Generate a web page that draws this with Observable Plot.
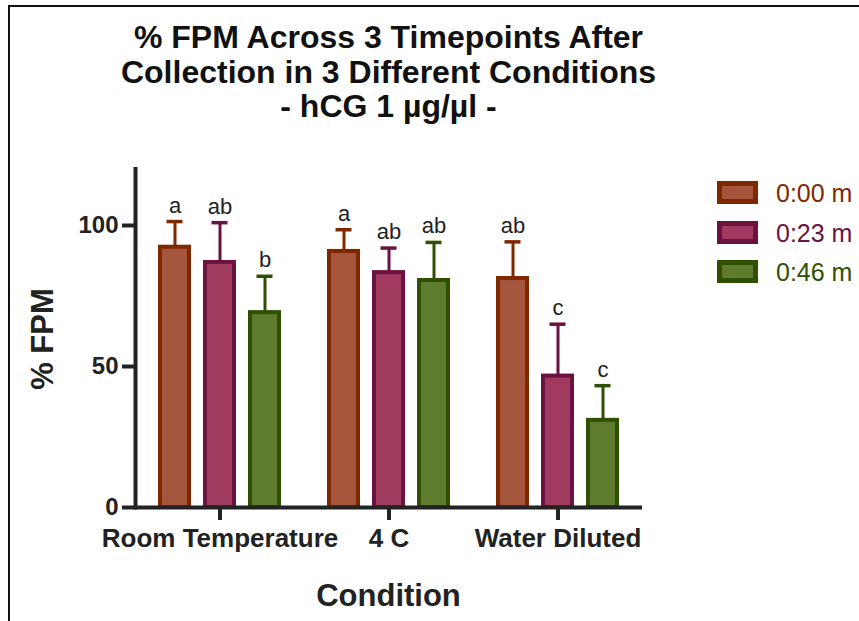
<!DOCTYPE html>
<html>
<head>
<meta charset="utf-8">
<script src="https://cdn.jsdelivr.net/npm/d3@7"></script>
<script src="https://cdn.jsdelivr.net/npm/@observablehq/plot@0.6"></script>
<style>
  body { margin: 0; background: #fff; }
  #wrap { position: relative; width: 859px; height: 621px; overflow: hidden; background: #fff;
          font-family: "Liberation Sans", Arial, sans-serif; color: #222; }
  #chart { position: absolute; left: 0; top: 0; }
  #frame { position: absolute; left: 8px; top: 5px; width: 900px; height: 700px;
           border-left: 2px solid #111; border-top: 2px solid #111; box-sizing: border-box; }
  #title { position: absolute; left: 0; top: 20px; width: 777px; text-align: center;
           font-weight: bold; font-size: 32px; line-height: 34.5px; color: #111; }
  #ylabel { position: absolute; left: 27.2px; top: 339px; white-space: nowrap;
            font-weight: bold; font-size: 31px; line-height: 31px; color: #222;
            transform-origin: 0 0; transform: rotate(-90deg) translateX(-50%); }
  #xlabel { position: absolute; left: 0; top: 580.2px; width: 777px; text-align: center;
            font-weight: bold; font-size: 31px; line-height: 31px; color: #222; }
  .sw { position: absolute; left: 717px; width: 41px; height: 23px; box-sizing: border-box; border: 5px solid; }
  .lt { position: absolute; left: 776px; font-size: 25px; line-height: 25px; white-space: nowrap; }
  #chart text { font-family: "Liberation Sans", Arial, sans-serif; }
</style>
</head>
<body>
<div id="wrap">
  <div id="chart"></div>
  <div id="frame"></div>
  <div id="title"></div>
  <div id="ylabel"></div>
  <div id="xlabel"></div>
  <div id="legend"></div>
</div>
<script>
// ---- data ----
const titleLines = ["% FPM Across 3 Timepoints After", "Collection in 3 Different Conditions", "- hCG 1 µg/µl -"];
const yLabel = "% FPM";
const xLabel = "Condition";
const conditions = ["Room Temperature", "4 C", "Water Diluted"];
const timepoints = ["0:00 m", "0:23 m", "0:46 m"];
const yTicks = [0, 50, 100];

// mean values per timepoint, in order of conditions
const mean000 = [92.3, 90.8, 81.2];
const mean023 = [86.9, 83.3, 46.6];
const mean046 = [69.1, 80.5, 30.9];
// upper end of error bar (mean + error)
const upper000 = [101.4, 98.5, 94.2];
const upper023 = [101.0, 92.0, 65.0];
const upper046 = [82.0, 94.0, 43.2];
// significance letters
const letters000 = ["a", "a", "ab"];
const letters023 = ["ab", "ab", "c"];
const letters046 = ["b", "ab", "c"];

const fills = ["#A5553B", "#A03A5F", "#5F7B2E"];
const strokes = ["#7F2800", "#6A1340", "#2F5000"];

// ---- build table ----
const means = [mean000, mean023, mean046];
const uppers = [upper000, upper023, upper046];
const letters = [letters000, letters023, letters046];
const rows = [];
conditions.forEach((c, i) => {
  timepoints.forEach((t, j) => {
    rows.push({condition: c, time: t, mean: means[j][i], upper: uppers[j][i],
               letter: letters[j][i], fill: fills[j], stroke: strokes[j]});
  });
});

const chart = Plot.plot({
  width: 859,
  height: 621,
  marginLeft: 135,
  marginRight: 217,
  marginTop: 168.6,
  marginBottom: 114,
  style: {background: "transparent", color: "#222", fontFamily: "Liberation Sans, Arial, sans-serif"},
  fx: {domain: conditions, padding: 0, axis: null, label: null},
  x: {domain: timepoints, paddingInner: 0.348, paddingOuter: 0.511, axis: null, label: null},
  y: {domain: [0, 120], axis: null, label: null},
  color: {type: "identity"},
  marks: [
    Plot.ruleX(rows, {fx: "condition", x: "time", y1: "mean", y2: "upper", stroke: "stroke", strokeWidth: 3}),
    Plot.tickY(rows, {fx: "condition", x: "time", y: "upper", stroke: "stroke", strokeWidth: 3.5, insetLeft: 6.5, insetRight: 6.5}),
    Plot.barY(rows, {fx: "condition", x: "time", y: "mean", fill: "fill", stroke: "stroke", strokeWidth: 4}),
    Plot.text(rows, {fx: "condition", x: "time", y: "upper", text: "letter", dy: -16, fontSize: 22, fill: "#222"}),
    Plot.ruleY([0], {stroke: "#222", strokeWidth: 4}),
    Plot.frame({anchor: "left", facetAnchor: "left", stroke: "#222", strokeWidth: 4}),
    Plot.axisY({ticks: yTicks, tickSize: 13, tickPadding: 4, strokeWidth: 4, stroke: "#222", fill: "#222",
                fontSize: 24, fontWeight: "bold", label: null, tickFormat: d => String(d)}),
    Plot.axisFx({anchor: "bottom", tickSize: 13, tickPadding: 8, strokeWidth: 4, stroke: "#222", fill: "#222",
                 fontSize: 26, fontWeight: "bold", label: null})
  ]
});
document.getElementById("chart").appendChild(chart);

// ---- texts ----
document.getElementById("title").innerHTML = titleLines.map(s => `<div>${s}</div>`).join("");
document.getElementById("ylabel").textContent = yLabel;
document.getElementById("xlabel").textContent = xLabel;

// ---- legend ----
const legend = document.getElementById("legend");
const swTops = [181, 220.5, 260];
timepoints.forEach((t, j) => {
  const sw = document.createElement("div");
  sw.className = "sw";
  sw.style.top = swTops[j] + "px";
  sw.style.background = fills[j];
  sw.style.borderColor = strokes[j];
  legend.appendChild(sw);
  const lt = document.createElement("div");
  lt.className = "lt";
  lt.style.top = swTops[j] + "px";
  lt.style.color = strokes[j];
  lt.textContent = t;
  legend.appendChild(lt);
});
</script>
</body>
</html>
